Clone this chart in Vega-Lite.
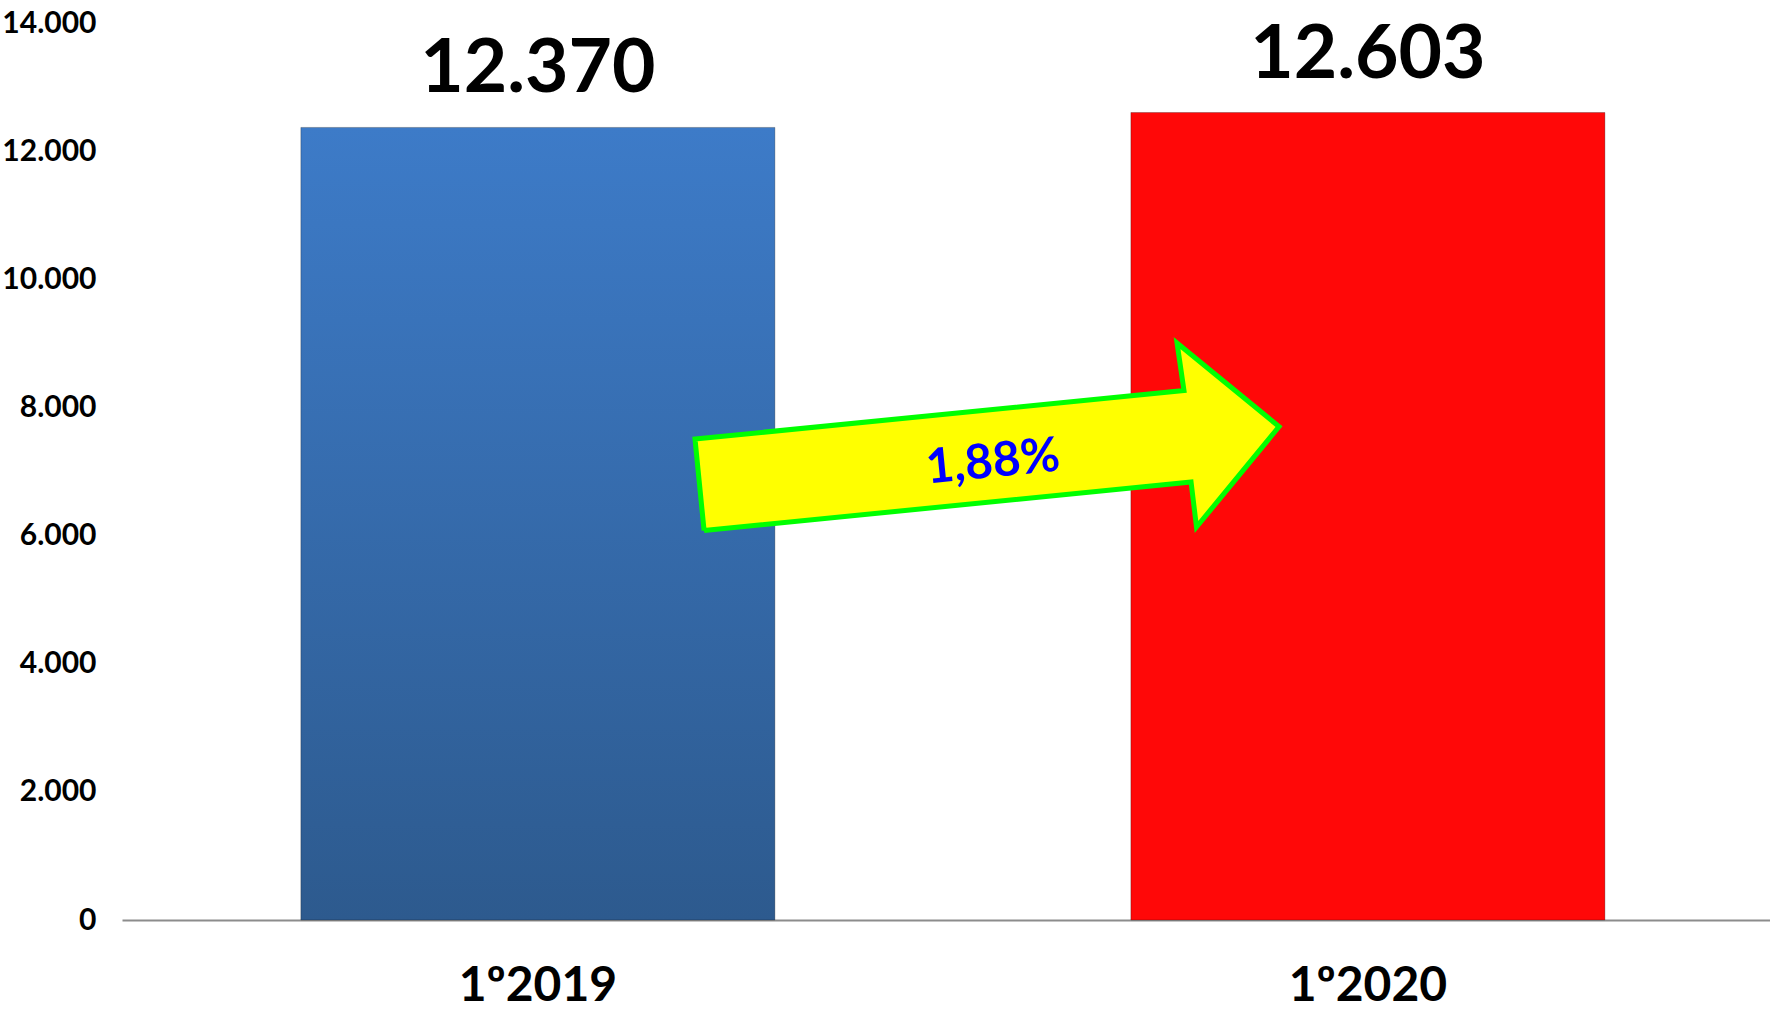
{
  "$schema": "https://vega.github.io/schema/vega-lite/v6.json",
  "width": 1648,
  "height": 897,
  "autosize": {"type": "none"},
  "padding": {"left": 122, "top": 23, "right": 0, "bottom": 89},
  "background": "white",
  "config": {
    "view": {"stroke": null},
    "font": "Lato",
    "locale": {"number": {"decimal": ",", "thousands": ".", "grouping": [3], "currency": ["", " €"]}}
  },
  "datasets": {
    "bars": [
      {"period": "1º2019", "value": 12370},
      {"period": "1º2020", "value": 12603}
    ],
    "arrow": [
      {"i": 0, "ax": 0.3532, "ay": 6079},
      {"i": 1, "ax": 0.3477, "ay": 7507},
      {"i": 2, "ax": 0.6444, "ay": 8263},
      {"i": 3, "ax": 0.6402, "ay": 9006},
      {"i": 4, "ax": 0.7021, "ay": 7700},
      {"i": 5, "ax": 0.6520, "ay": 6134},
      {"i": 6, "ax": 0.6487, "ay": 6836},
      {"i": 7, "ax": 0.3532, "ay": 6079}
    ],
    "note": [{"label": "1,88%", "ax": 0.5285, "ay": 7133}]
  },
  "layer": [
    {
      "layer": [
        {
          "data": {"name": "bars"},
          "mark": {"type": "bar", "stroke": "#000000", "strokeOpacity": 0.25, "strokeWidth": 1},
          "encoding": {
            "x": {
              "field": "period", "type": "nominal", "sort": null,
              "scale": {"paddingInner": 0.4289, "paddingOuter": 0.2072, "align": 0.52},
              "axis": {
                "title": null, "labelFont": "Lato", "labelFontSize": 48, "labelFontWeight": "bold",
                "labelColor": "#000000", "labelAngle": 0, "ticks": false, "tickSize": 0,
                "labelPadding": 80, "labelBaseline": "alphabetic",
                "domainColor": "#8c8c8c", "domainWidth": 2
              }
            },
            "y": {
              "field": "value", "type": "quantitative",
              "scale": {"domain": [0, 14000], "nice": false},
              "axis": {
                "title": null, "values": [0, 2000, 4000, 6000, 8000, 10000, 12000, 14000],
                "format": ",d", "labelFont": "Lato", "labelFontSize": 30, "labelFontWeight": "bold",
                "labelColor": "#000000", "ticks": false, "tickSize": 0, "labelPadding": 26,
                "domain": false, "grid": false
              }
            },
            "fill": {
              "condition": {
                "test": "datum.period === '1º2019'",
                "value": {
                  "gradient": "linear", "x1": 0, "y1": 0, "x2": 0, "y2": 1,
                  "stops": [
                    {"offset": 0, "color": "#3D7BC8"},
                    {"offset": 1, "color": "#2D5A8E"}
                  ]
                }
              },
              "value": "#FF0808"
            }
          }
        },
        {
          "data": {"name": "bars"},
          "mark": {"type": "text", "dy": -35, "baseline": "alphabetic", "fontSize": 75, "fontWeight": "bold", "font": "Lato", "color": "#000000"},
          "encoding": {
            "x": {"field": "period", "type": "nominal", "sort": null},
            "y": {"field": "value", "type": "quantitative", "title": null},
            "text": {"field": "value", "type": "quantitative", "format": ",d"}
          }
        }
      ]
    },
    {
      "layer": [
        {
          "data": {"name": "arrow"},
          "mark": {"type": "line", "fill": "#FFFF00", "stroke": "#00FF00", "strokeWidth": 5, "strokeJoin": "miter"},
          "encoding": {
            "x": {"field": "ax", "type": "quantitative", "scale": {"domain": [0, 1], "nice": false, "zero": false}, "axis": null},
            "y": {"field": "ay", "type": "quantitative", "title": null},
            "order": {"field": "i", "type": "quantitative"}
          }
        },
        {
          "data": {"name": "note"},
          "mark": {"type": "text", "angle": 354.3, "fontSize": 48, "fontWeight": "bold", "font": "Lato", "color": "#0000FF", "baseline": "middle", "align": "center"},
          "encoding": {
            "x": {"field": "ax", "type": "quantitative", "scale": {"domain": [0, 1], "nice": false, "zero": false}, "axis": null},
            "y": {"field": "ay", "type": "quantitative", "title": null},
            "text": {"field": "label", "type": "nominal"}
          }
        }
      ]
    }
  ],
  "resolve": {"scale": {"x": "independent"}, "axis": {"x": "independent"}}
}
